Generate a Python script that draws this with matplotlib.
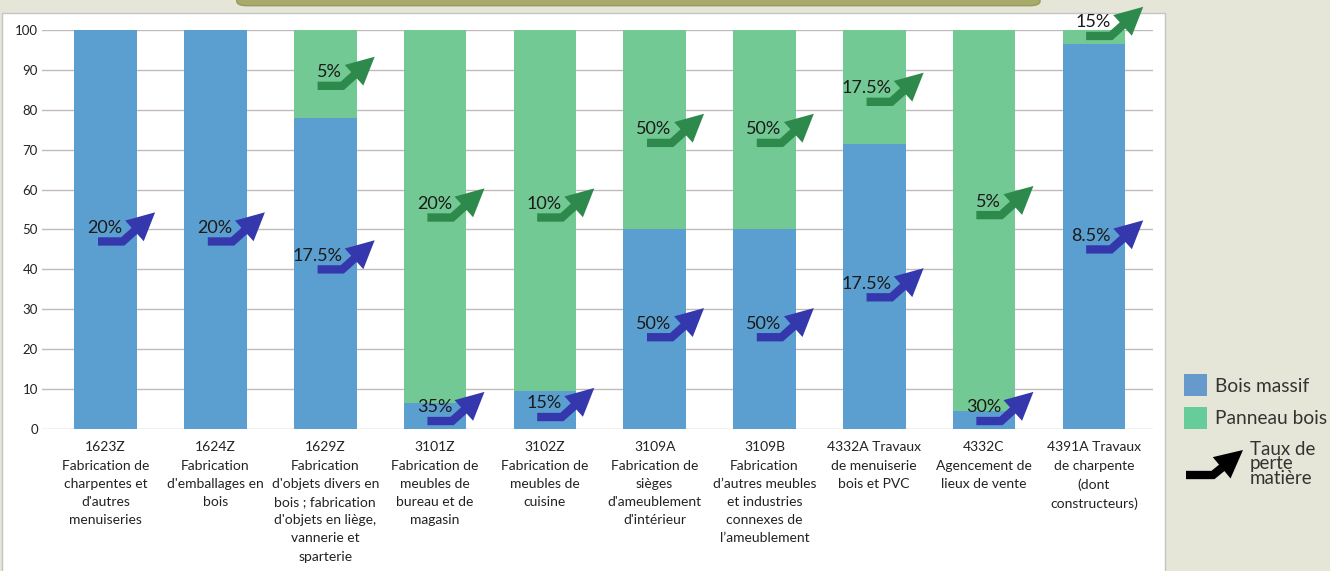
import numpy as np
import matplotlib.pyplot as plt
from matplotlib.patches import Rectangle, FancyBboxPatch
from matplotlib.lines import Line2D

plt.rcParams['font.family'] = ['Lato', 'DejaVu Sans']

# Données
categories = [
    "1623Z\nFabrication de\ncharpentes et\nd'autres\nmenuiseries",
    "1624Z\nFabrication\nd'emballages en\nbois",
    "1629Z\nFabrication\nd'objets divers en\nbois ; fabrication\nd'objets en liège,\nvannerie et\nsparterie",
    "3101Z\nFabrication de\nmeubles de\nbureau et de\nmagasin",
    "3102Z\nFabrication de\nmeubles de\ncuisine",
    "3109A\nFabrication de\nsièges\nd'ameublement\nd'intérieur",
    "3109B\nFabrication\nd’autres meubles\net industries\nconnexes de\nl’ameublement",
    "4332A Travaux\nde menuiserie\nbois et PVC",
    "4332C\nAgencement de\nlieux de vente",
    "4391A Travaux\nde charpente\n(dont\nconstructeurs)",
]
bois_massif = [100, 100, 78, 6.5, 9.5, 50, 50, 71.5, 4.5, 96.5]
panneau_bois = [0, 0, 22, 93.5, 90.5, 50, 50, 28.5, 95.5, 3.5]
perte_massif = ['20%', '20%', '17.5%', '35%', '15%', '50%', '50%', '17.5%', '30%', '8.5%']
perte_panneau = [None, None, '5%', '20%', '10%', '50%', '50%', '17.5%', '5%', '15%']
# hauteur (base) des flèches de taux de perte
y_fleche_massif = [47, 47, 40, 2, 3, 23, 23, 33, 2, 45]
y_fleche_panneau = [None, None, 86, 53, 53, 71.7, 71.7, 82, 53.6, 98.5]

BLEU = '#5b9fd0'
VERT = '#73c993'
FL_BLEU = '#3538ad'
FL_VERT = '#2e8a4c'


def fleche(ax, x, y, txt, color):
    ax.plot([x - 0.07, x + 0.155, x + 0.155 + 0.295 * 0.5], [y, y, y + 7.3 * 0.5],
            color=color, lw=6, solid_joinstyle='miter', solid_capstyle='butt',
            clip_on=False, zorder=4)
    ax.annotate('', xy=(x + 0.45, y + 7.3), xytext=(x + 0.155, y),
                arrowprops=dict(arrowstyle='-|>,head_length=1.0,head_width=0.5',
                                mutation_scale=20, color=color, lw=0,
                                shrinkA=0, shrinkB=0),
                annotation_clip=False, zorder=4)
    ax.text(x + 0.155, y + 3.4, txt, ha='right', va='center', fontsize=13,
            color='#1a1a1a', zorder=5, clip_on=False)


fig = plt.figure(figsize=(13.3, 5.71), dpi=100, facecolor='#e6e6d8')

# panneau blanc et bandeau
fig.add_artist(Rectangle((0.0015, -0.01), 0.8745, 0.987, transform=fig.transFigure,
                         facecolor='white', edgecolor='#c4c4c4', lw=1, zorder=0))
fig.add_artist(FancyBboxPatch((0.178, 0.99), 0.604, 0.05, transform=fig.transFigure,
                              boxstyle='round,pad=0,rounding_size=0.008',
                              facecolor='#a8aa6c', edgecolor='#999b5c', lw=1, zorder=0))

ax = fig.add_axes([0.0316, 0.2487, 0.8354, 0.6988])
ax.set_facecolor('none')
x = np.arange(len(categories))
ax.bar(x, bois_massif, width=0.57, color=BLEU, zorder=2)
ax.bar(x, panneau_bois, width=0.57, bottom=bois_massif, color=VERT, zorder=2)

for i in range(len(categories)):
    fleche(ax, x[i], y_fleche_massif[i], perte_massif[i], FL_BLEU)
    if perte_panneau[i] is not None:
        fleche(ax, x[i], y_fleche_panneau[i], perte_panneau[i], FL_VERT)

ax.set_ylim(0, 100)
ax.set_xlim(-0.58, 9.54)
ax.set_yticks(range(0, 101, 10))
ax.yaxis.grid(True, color='#c2baba', lw=1, zorder=1)
ax.set_axisbelow(True)
for s in ax.spines.values():
    s.set_visible(False)
ax.tick_params(axis='y', length=0, pad=3, labelsize=9.5, labelcolor='#222222')
ax.tick_params(axis='x', length=0, pad=9)
ax.set_xticks(x)
ax.set_xticklabels(categories, fontsize=10, color='#222222', linespacing=1.62)

# légende
fig.add_artist(Rectangle((1184 / 1330, 1 - 396 / 571), 23 / 1330, 22 / 571,
                         transform=fig.transFigure, facecolor='#6699cc', lw=0))
fig.add_artist(Rectangle((1184 / 1330, 1 - 429 / 571), 23 / 1330, 22 / 571,
                         transform=fig.transFigure, facecolor='#66cc99', lw=0))
fig.text(1215 / 1330, 1 - 386 / 571, 'Bois massif', fontsize=13.8, color='#333333',
         va='center', ha='left')
fig.text(1215 / 1330, 1 - 418 / 571, 'Panneau bois', fontsize=13.8, color='#333333',
         va='center', ha='left')
fig.add_artist(Line2D([1186 / 1330, 1213 / 1330, 1224 / 1330],
                      [1 - 475 / 571, 1 - 475 / 571, 1 - 466 / 571],
                      transform=fig.transFigure, color='black', lw=6,
                      solid_joinstyle='miter', solid_capstyle='butt'))
fig.add_artist(plt.Annotation('', xy=(1243 / 1330, 1 - 450 / 571),
                              xytext=(1213 / 1330, 1 - 475 / 571),
                              xycoords='figure fraction', textcoords='figure fraction',
                              arrowprops=dict(arrowstyle='-|>,head_length=1.0,head_width=0.5',
                                              mutation_scale=20, color='black', lw=0,
                                              shrinkA=0, shrinkB=0)))
fig.text(1250 / 1330, 1 - 464 / 571, 'Taux de\nperte\nmatière', fontsize=13.5,
         color='#333333', va='center', ha='left', linespacing=0.8)

fig.savefig('out.png', dpi=100, facecolor=fig.get_facecolor())
